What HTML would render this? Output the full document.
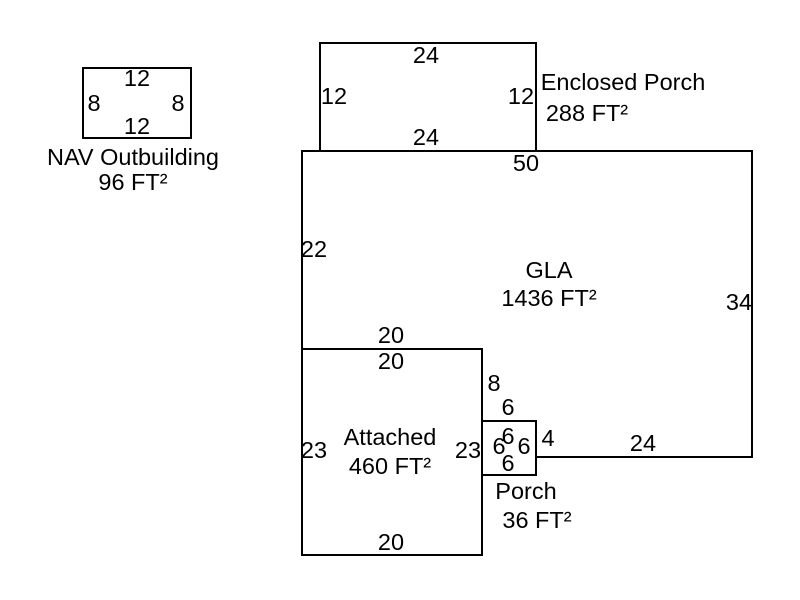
<!DOCTYPE html>
<html><head><style>
html,body{margin:0;padding:0;background:#fff;width:800px;height:600px;overflow:hidden}
text{font-family:"Liberation Sans",Arial,sans-serif;font-size:23.5px;fill:#000;text-anchor:middle;dominant-baseline:central}
</style></head><body>
<svg width="800" height="600" xmlns="http://www.w3.org/2000/svg">
<g fill="none" stroke="#000" stroke-width="2">
<rect x="83" y="68" width="108" height="70"/>
<rect x="320" y="43" width="216" height="108"/>
<polyline points="302,555 302,151 752,151 752,457 536,457"/>
<rect x="302" y="349" width="180" height="206"/>
<rect x="482" y="421" width="54" height="54"/>
</g>
<text x="137" y="78">12</text>
<text x="94" y="103">8</text>
<text x="178" y="103">8</text>
<text x="137" y="126">12</text>
<text x="133" y="157">NAV Outbuilding</text>
<text x="133" y="182">96 FT²</text>
<text x="426" y="55">24</text>
<text x="334" y="96">12</text>
<text x="521" y="96">12</text>
<text x="623" y="82">Enclosed Porch</text>
<text x="587" y="113">288 FT²</text>
<text x="426" y="137">24</text>
<text x="526" y="163">50</text>
<text x="314" y="249">22</text>
<text x="549" y="270">GLA</text>
<text x="549" y="298">1436 FT²</text>
<text x="739" y="302">34</text>
<text x="391" y="335">20</text>
<text x="391" y="361">20</text>
<text x="494" y="383">8</text>
<text x="508" y="407">6</text>
<text x="314" y="450">23</text>
<text x="390" y="437">Attached</text>
<text x="390" y="466">460 FT²</text>
<text x="468" y="450">23</text>
<text x="499" y="446">6</text>
<text x="508" y="436">6</text>
<text x="524" y="446">6</text>
<text x="508" y="463">6</text>
<text x="548" y="438">4</text>
<text x="643" y="443">24</text>
<text x="526" y="491">Porch</text>
<text x="537" y="520">36 FT²</text>
<text x="391" y="542">20</text>
</svg>
</body></html>
